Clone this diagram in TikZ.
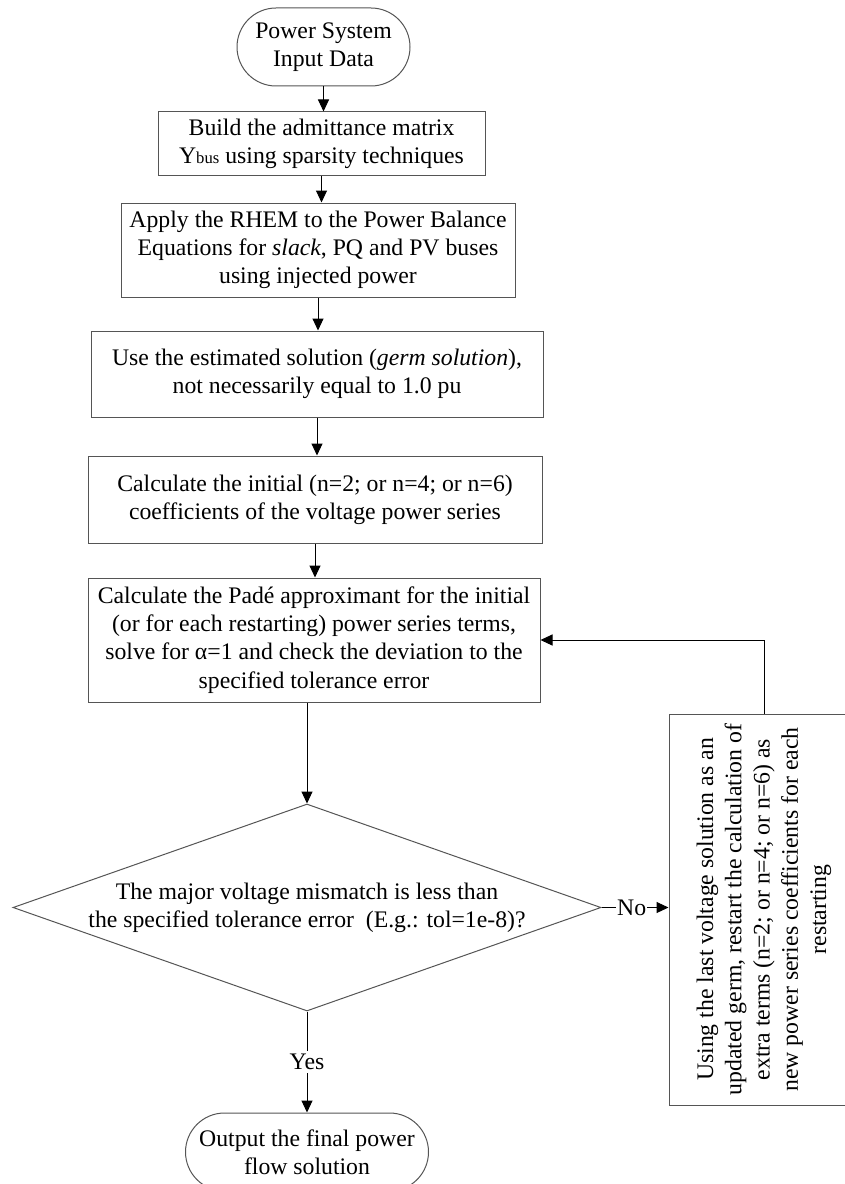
\documentclass[tikz,border=0pt]{standalone}
\usepackage{fontspec}
\setmainfont{Liberation Serif}
\usetikzlibrary{arrows.meta, positioning, shapes.geometric, shapes.misc}
\definecolor{boxline}{RGB}{85,85,85}

\begin{document}
\begin{tikzpicture}[
	x=0.75pt, y=-0.75pt,
	->,
	>={Triangle[length=9pt,width=8.25pt]},
	line width=0.75pt,
%	node distance=2cm,
	font=\fontsize{17.8}{21.2}\selectfont
]
\useasboundingbox (0,0) rectangle (844,1184);

\tikzset{
	process/.style={rectangle, draw=boxline, fill=white, align=center, inner sep=0pt},
	terminal/.style={rounded rectangle, draw=boxline, fill=white, align=center, inner sep=0pt},
	decision/.style={diamond, draw=boxline, fill=white, aspect=2.83, align=center, inner sep=0pt}
}

\node[terminal, minimum width=129.75pt, minimum height=58.5pt] (start) at (323.5,47) {Power System\\Input Data};
\node[process, minimum width=245.25pt, minimum height=47.25pt] (ybus) at (321.5,143.5) {Build the admittance matrix\\Y{\fontsize{12.5}{14}\selectfont bus} using sparsity techniques};
\node[process, minimum width=295.5pt, minimum height=70.5pt] (rhem) at (318,250) {Apply the RHEM to the Power Balance\\Equations for \textit{slack}, PQ and PV buses\\using injected power};
\node[process, minimum width=339pt, minimum height=64.5pt] (germ) at (317,374) {Use the estimated solution (\textit{germ solution}),\\not necessarily equal to 1.0 pu};
\node[process, minimum width=340.5pt, minimum height=65.25pt] (coef) at (315,499.5) {Calculate the initial (n=2; or n=4; or n=6)\\coefficients of the voltage power series};
\node[process, minimum width=339pt, minimum height=93pt] (pade) at (314,640) {Calculate the Padé approximant for the initial\\(or for each restarting) power series terms,\\solve for α=1 and check the deviation to the\\specified tolerance error};
\node[decision, minimum width=441pt, minimum height=155.25pt] (test) at (307,907.5) {The major voltage mismatch is less than\\the specified tolerance error~~(E.g.: tol=1e-8)?};
\node[process, rotate=90, minimum width=293.25pt, minimum height=142.5pt] (redo) at (764,909.5) {Using the last voltage solution as an\\updated germ, restart the calculation of\\extra terms (n=2; or n=4; or n=6) as\\new power series coefficients for each\\restarting};
\node[terminal, minimum width=182.25pt, minimum height=58.5pt] (stop) at (307,1152) {Output the final power\\flow solution};

\draw (start.south) -- (start.south |- ybus.north);
\draw (ybus.south) -- (ybus.south |- rhem.north);
\draw (rhem.south) -- (rhem.south |- germ.north);
\draw (germ.south) -- (germ.south |- coef.north);
\draw (coef.south) -- (coef.south |- pade.north);
\draw (test.north |- pade.south) -- (test.north);
\draw (test.south) -- node[fill=white, inner sep=2pt] {Yes} (stop.north);
\draw (test.east) -- node[fill=white, inner sep=1pt, pos=0.45] {No} (test.east -| redo.north);
\draw (redo.east) |- (pade.east);
\end{tikzpicture}
\end{document}
